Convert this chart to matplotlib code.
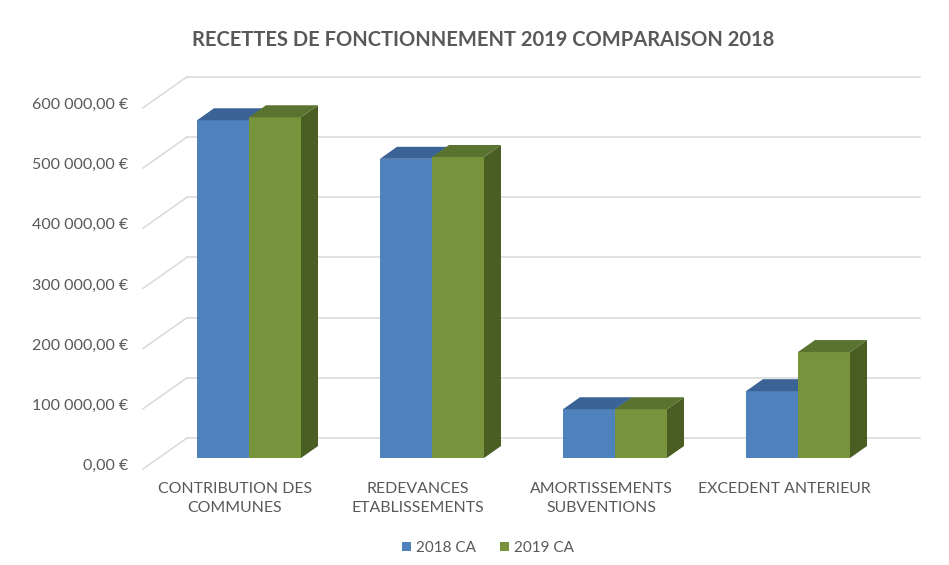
import matplotlib
matplotlib.use("Agg")
import matplotlib.pyplot as plt
from matplotlib.patches import Polygon, Patch

categories = ["CONTRIBUTION DES\nCOMMUNES", "REDEVANCES\nETABLISSEMENTS",
              "AMORTISSEMENTS\nSUBVENTIONS", "EXCEDENT ANTERIEUR"]
series_names = ["2018 CA", "2019 CA"]
values_2018 = [561000, 497000, 81000, 111000]
values_2019 = [566000, 500000, 81000, 176000]
y_ticks = [0, 100000, 200000, 300000, 400000, 500000, 600000]
y_tick_labels = ["0,00 €", "100 000,00 €", "200 000,00 €", "300 000,00 €",
                 "400 000,00 €", "500 000,00 €", "600 000,00 €"]
title = "RECETTES DE FONCTIONNEMENT 2019 COMPARAISON 2018"

W, H = 949, 565
fig = plt.figure(figsize=(W / 100, H / 100), dpi=100)
ax = fig.add_axes([0, 0, 1, 1])

# scale: 1 category unit = 183 px, 100k = 60.2 px
PX_X = 1 / 183.0
PX_Y = 100000 / 60.2
x0_px, y0_px = 249, 458  # pixel position of category 0 / value 0 (front plane)
ax.set_xlim(-x0_px * PX_X, (W - x0_px) * PX_X)
ax.set_ylim(-(H - y0_px) * PX_Y, y0_px * PX_Y)
ax.axis("off")

TXT = "#595959"
GRID = "#d9d9d9"
FONT = "Lato"

# back wall gridlines
bdy = 20 * PX_Y
wall_left = (187 - x0_px) * PX_X
wall_right = (920 - x0_px) * PX_X
for v, lab in zip(y_ticks, y_tick_labels):
    yb = v + bdy
    ax.plot([wall_left, wall_right], [yb, yb], color=GRID, lw=1.1, zorder=1)
    ax.plot([wall_left - 44 * PX_X, wall_left], [yb - 31 * PX_Y, yb], color=GRID, lw=1.1, zorder=1)
    ax.text((128 - x0_px) * PX_X, v - 8 * PX_Y, lab, ha="right", va="center",
            fontsize=11.5, color=TXT, family=FONT)

# bars
bw = 52 * PX_X
ddx, ddy = 17 * PX_X, 12 * PX_Y
styles = [("#4F81BD", "#3C6395", "#335A88"), ("#77933C", "#5A7430", "#4A5E24")]
handles = []
for i in range(len(categories)):
    for s, vals in enumerate([values_2018, values_2019]):
        front, top, side = styles[s]
        xl = i - bw + s * bw
        h = vals[i]
        ax.bar(xl, h, width=bw, align="edge", color=front, zorder=3 + s * 3,
               edgecolor="none")
        if i == 0:
            handles.append(Patch(facecolor=front, label=series_names[s]))
        xr = xl + bw
        ax.add_patch(Polygon([(xl, h), (xr, h), (xr + ddx, h + ddy), (xl + ddx, h + ddy)],
                             closed=True, facecolor=top, edgecolor="none", zorder=4 + s * 3))
        ax.add_patch(Polygon([(xr, 0), (xr, h), (xr + ddx, h + ddy), (xr + ddx, ddy)],
                             closed=True, facecolor=side, edgecolor="none", zorder=2 + s * 3))

# category labels
for i, cat in enumerate(categories):
    ax.text(i - 14 * PX_X, -(482 - y0_px) * PX_Y, cat, ha="center", va="top",
            fontsize=11.4, color=TXT, family=FONT, linespacing=1.5)

fig.text(483 / W, 1 - 40 / H, title, ha="center", va="center", fontsize=14.5,
         fontweight="bold", color=TXT, family=FONT)

fig.legend(handles=handles, loc="center", bbox_to_anchor=(488 / W, 1 - 548 / H), ncol=2,
           frameon=False, handlelength=0.6, handleheight=0.6, handletextpad=0.3,
           columnspacing=1.6, prop={"family": FONT, "size": 11}, labelcolor=TXT)

fig.savefig("out.png", dpi=100, facecolor="white")
